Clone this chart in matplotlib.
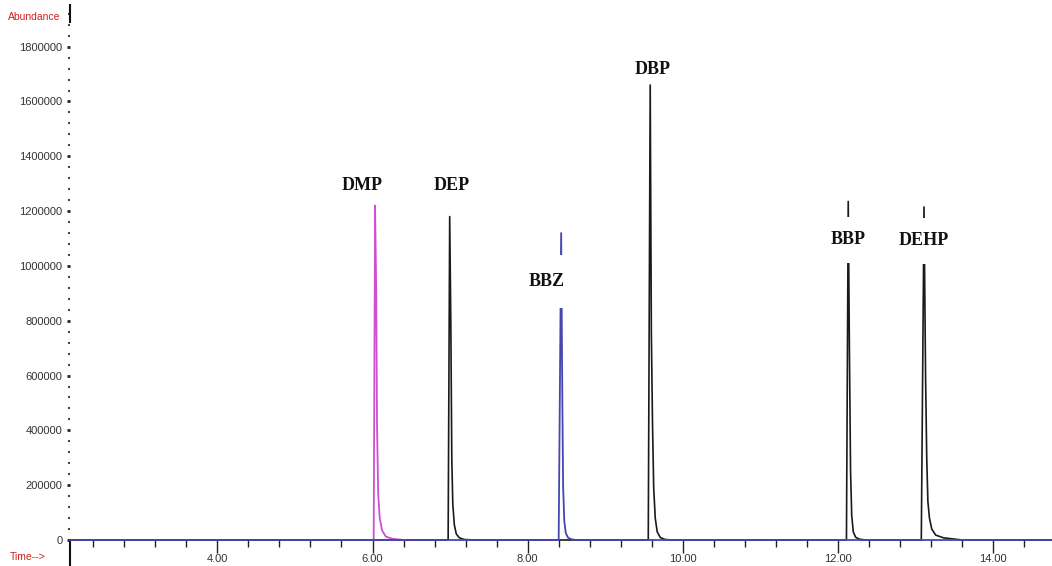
import matplotlib.pyplot as plt
from matplotlib.ticker import MultipleLocator

# retention time (min) / abundance pairs
DMP_T = [5.99, 6.015, 6.033, 6.048, 6.058, 6.073, 6.093, 6.123, 6.173, 6.263, 6.413]
DMP_Y = [0, 0, 1220000, 900000, 420000, 170000, 80000, 35000, 12000, 4000, 0]

BLACK_T = [2.10,
           6.95, 6.975, 6.995, 7.01, 7.022, 7.035, 7.055, 7.08, 7.12, 7.18, 7.31,
           9.53, 9.555, 9.58, 9.595, 9.61, 9.625, 9.645, 9.67, 9.71, 9.77, 9.86,
           12.08, 12.11, 12.133, 12.148, 12.163, 12.178, 12.198, 12.228, 12.278, 12.358,
           13.04, 13.075, 13.11, 13.13, 13.145, 13.16, 13.18, 13.21, 13.26, 13.36, 13.51, 13.61,
           14.76]
BLACK_Y = [0,
           0, 0, 1180000, 780000, 300000, 130000, 55000, 22000, 8000, 2000, 0,
           0, 0, 1660000, 750000, 420000, 190000, 80000, 30000, 9000, 2000, 0,
           0, 0, 1235000, 700000, 250000, 90000, 30000, 10000, 3000, 0,
           0, 0, 1215000, 600000, 300000, 140000, 80000, 40000, 18000, 8000, 3000, 0,
           0]

BBZ_T = [2.10, 8.37, 8.40, 8.432, 8.447, 8.457, 8.472, 8.492, 8.522, 8.572, 8.632, 14.76]
BBZ_Y = [0, 0, 0, 1120000, 520000, 200000, 70000, 25000, 8000, 2000, 0, 0]

PEAK_NAMES = ["DMP", "DEP", "BBZ", "DBP", "BBP", "DEHP"]
LABEL_T = [5.87, 7.02, 8.25, 9.61, 12.13, 13.11]
LABEL_Y = [1292000, 1292000, 942000, 1715000, 1095000, 1091000]
LABEL_PAD = [0.1, 0.1, 1.0, 0.1, 0.8, 0.8]

X_MAJOR = [4, 6, 8, 10, 12, 14]
Y_MAJOR = list(range(0, 1800001, 200000))

W, H = 1052, 566
fig = plt.figure(figsize=(W / 100, H / 100), dpi=100)
ax = fig.add_axes([70 / W, 1 - 540 / H, 1 - 70 / W, 535 / H])

ax.plot(BLACK_T, BLACK_Y, color="#1a1a1a", lw=1.2, clip_on=False, zorder=2)
ax.plot(DMP_T, DMP_Y, color="#d04ed0", lw=1.3, clip_on=False, zorder=3)
ax.plot(BBZ_T, BBZ_Y, color="#4646b0", lw=1.3, clip_on=False, zorder=4)

for name, t, y, pad in zip(PEAK_NAMES, LABEL_T, LABEL_Y, LABEL_PAD):
    ax.text(t, y, name, ha="center", va="center", fontsize=13,
            fontweight="bold", family="Liberation Serif", color="#111111",
            zorder=6,
            bbox=dict(boxstyle=f"square,pad={pad}", fc="white", ec="none"))

ax.set_xlim(2.10, 14.76)
ax.set_ylim(0, 1952000)

for side in ["top", "right", "left", "bottom"]:
    ax.spines[side].set_visible(False)

ax.set_xticks(X_MAJOR)
ax.set_xticklabels([f"{v:.2f}" for v in X_MAJOR])
ax.xaxis.set_minor_locator(MultipleLocator(0.4))
ax.set_yticks(Y_MAJOR)
ax.set_yticklabels([str(v) for v in Y_MAJOR])
ax.yaxis.set_minor_locator(MultipleLocator(40000))

ax.tick_params(axis="x", which="major", direction="out", length=9, width=1,
               color="#222222", labelsize=8, pad=1, labelcolor="#333333")
ax.tick_params(axis="x", which="minor", direction="out", length=5, width=1,
               color="#222222")
ax.tick_params(axis="y", which="major", direction="out", length=2.5, width=2,
               color="#222222", labelsize=8, pad=3, labelcolor="#333333")
ax.tick_params(axis="y", which="minor", direction="out", length=1.5, width=1.5,
               color="#444444")
for lab in ax.get_xticklabels() + ax.get_yticklabels():
    lab.set_family("Liberation Sans")

# short axis stubs at the top and below the baseline
ax.plot([0, 0], [1.0, 0.968], transform=ax.transAxes, color="#111111",
        lw=1.5, clip_on=False)
ax.plot([0, 0], [0, -0.06], transform=ax.transAxes, color="#111111",
        lw=1.5, clip_on=False)

fig.text(8 / W, 1 - 17 / H, "Abundance", color="#cc2020", fontsize=7.5,
         family="Liberation Sans", va="center", ha="left")
fig.text(10 / W, 1 - 557 / H, "Time-->", color="#cc2020", fontsize=7.5,
         family="Liberation Sans", va="center", ha="left")

fig.savefig("out.png", dpi=100, facecolor="white")
